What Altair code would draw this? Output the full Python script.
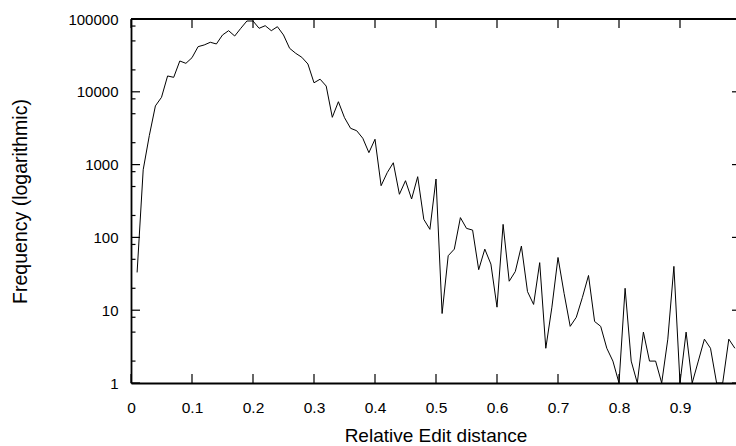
import altair as alt
import pandas as pd

# ---- data ----
edit_distance = [round(0.01 * i, 2) for i in range(1, 100)]
frequency = [
    33, 850, 2500, 6400, 8400, 16500, 15800, 26500, 24600, 29400,
    41700, 44000, 47900, 45400, 60300, 69100, 58400, 74500, 93900, 93900,
    74500, 80900, 69100, 78400, 60300, 39600, 33800, 29800, 24100, 13300,
    14900, 12000, 4460, 7310, 4410, 3150, 2920, 2300, 1460, 2230,
    513, 774, 1060, 391, 601, 337, 682, 177, 129, 634,
    9, 56, 69, 187, 133, 126, 36, 69, 43, 11,
    151, 25, 34, 76, 18, 12, 45, 3, 11, 53,
    17, 6, 8, 15, 30, 7, 6, 3, 2, 1,
    20, 2, 1, 5, 2, 2, 1, 4, 40, 1,
    5, 1, 2, 4, 3, 1, 1, 4, 3,
]
x_ticks = [0, 0.1, 0.2, 0.3, 0.4, 0.5, 0.6, 0.7, 0.8, 0.9]
y_major = [1, 10, 100, 1000, 10000, 100000]
y_minor = [m * d for d in [1, 10, 100, 1000, 10000] for m in (2, 5, 8)]

W, H = 605, 364
FONT = "Liberation Sans"

df = pd.DataFrame({"x": edit_distance, "freq": frequency})
xt = pd.DataFrame({"x": x_ticks})
ymaj = pd.DataFrame({"freq": y_major})
ymin = pd.DataFrame({"freq": y_minor})
one = pd.DataFrame({"a": [0]})

xscale = alt.Scale(domain=[0, 0.9918], nice=False, zero=False)
yscale = alt.Scale(type="log", domain=[1, 100000], nice=False)

xaxis = alt.Axis(
    values=x_ticks, title="Relative Edit distance", ticks=False, grid=False,
    domain=True, domainColor="black", domainWidth=1.8,
    labelFont=FONT, labelFontSize=15.5, labelColor="black", labelPadding=17,
    labelFlush=False, labelExpr="datum.value == 0 ? '0' : format(datum.value, '.1f')",
    titleFont=FONT, titleFontSize=19, titleFontWeight="normal", titleColor="black",
    titleBaseline="middle", titleY=52, titleX=W / 2 + 2,
)
yaxis = alt.Axis(
    values=y_major, title="Frequency (logarithmic)", ticks=False, grid=False,
    domain=True, domainColor="black", domainWidth=1.8, format="d",
    labelFont=FONT, labelFontSize=15, labelColor="black", labelPadding=13,
    labelFlush=False,
    titleFont=FONT, titleFontSize=19.5, titleFontWeight="normal", titleColor="black",
    titleBaseline="middle", titleX=-111, titleY=H / 2, titleAngle=-90,
)

X = alt.X("x:Q", scale=xscale, axis=xaxis)
Y = alt.Y("freq:Q", scale=yscale, axis=yaxis)

line = alt.Chart(df).mark_line(color="black", strokeWidth=1, clip=True).encode(x=X, y=Y)

tick_style = dict(color="black", strokeWidth=1.2)
bottom_ticks = alt.Chart(xt).mark_rule(**tick_style).encode(
    x=X, y=alt.value(H - 9), y2=alt.value(H))
top_ticks = alt.Chart(xt).mark_rule(**tick_style).encode(
    x=X, y=alt.value(0), y2=alt.value(9))
left_major = alt.Chart(ymaj).mark_rule(**tick_style).encode(
    y=Y, x=alt.value(0), x2=alt.value(9))
left_minor = alt.Chart(ymin).mark_rule(**tick_style).encode(
    y=Y, x=alt.value(0), x2=alt.value(4.5))
right_major = alt.Chart(ymaj).mark_rule(**tick_style).encode(
    y=Y, x=alt.value(W - 4), x2=alt.value(W))
top_border = alt.Chart(one).mark_rule(color="black", strokeWidth=1.8).encode(
    x=alt.value(0), x2=alt.value(W), y=alt.value(0))

chart = alt.layer(
    line, bottom_ticks, top_ticks, left_major, left_minor, right_major, top_border
).properties(
    width=W, height=H,
    autosize=alt.AutoSizeParams(type="none"),
    padding={"left": 131, "top": 19, "right": 0, "bottom": 63},
).configure_view(stroke=None).configure(background="white")

chart.save("out.html", embed_options={"renderer": "svg", "actions": False})
